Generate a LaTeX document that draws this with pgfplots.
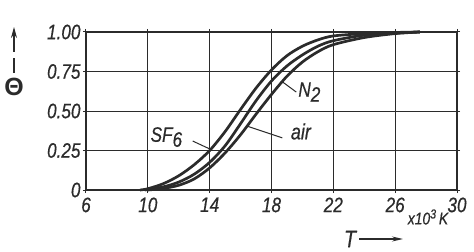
\documentclass[border=0pt]{standalone}
\usepackage{fontspec}
\setmainfont{Liberation Sans}
\newfontfamily\tickfont{Liberation Sans}[FakeStretch=0.82, FakeBold=0.5]
\usepackage{pgfplots}
\pgfplotsset{compat=1.18}
\usetikzlibrary{arrows.meta}
\definecolor{ink}{HTML}{2B2B2B}
\begin{document}
\begin{tikzpicture}
\path[use as bounding box] (-86bp,-62bp) rectangle (388bp,190bp);
\begin{axis}[at={(0bp,0bp)},anchor=south west, scale only axis,
  width=371bp, height=158bp,
  xmin=6,xmax=30,ymin=0,ymax=1,
  xtick={6,10,14,18,22,26,30}, ytick={0,0.25,0.5,0.75,1},
  yticklabels={0,0.25,0.50,0.75,1.00},
  grid=major, grid style={ink, line width=1bp},
  axis line style={ink, line width=1.8bp},
  tick align=outside, major tick length=3bp, tick style={ink,line width=1bp},
  tick label style={font=\tickfont\fontsize{21}{21}\selectfont\itshape, text=ink},
  yticklabel style={xshift=1bp},
  xticklabel style={yshift=-1bp},
  /pgf/number format/assume math mode=true,
  clip=false,
]
% SF6
\addplot[ink, line width=2.7bp, smooth, tension=0.5] coordinates {
(9.5,0) (10,0.008) (11,0.04) (12,0.09) (13,0.16) (14,0.25) (15,0.37) (16,0.51)
(17,0.645) (18,0.76) (19,0.85) (20,0.91) (21,0.95) (22,0.975) (24,0.99) (26,0.997) (27.6,1.0)};
% air
\addplot[ink, line width=2.7bp, smooth, tension=0.5] coordinates {
(9.8,0) (11,0.02) (12,0.05) (13,0.10) (14,0.175) (15,0.28) (16,0.42) (17,0.565)
(18,0.69) (19,0.785) (20,0.855) (21,0.91) (22,0.945) (24,0.98) (26,0.993) (27.6,1.0)};
% N2
\addplot[ink, line width=2.7bp, smooth, tension=0.5] coordinates {
(10,0) (11,0.01) (12,0.03) (13,0.07) (14,0.14) (15,0.235) (16,0.35) (17,0.48)
(18,0.605) (19,0.72) (20,0.81) (21,0.875) (22,0.92) (24,0.965) (26,0.99) (27.6,1.0)};
\node[font=\tickfont\fontsize{21}{21}\selectfont\itshape, text=ink] at (axis cs:11.2,0.335) {SF\raisebox{-5bp}{6}};
\draw[ink, line width=1bp] (axis cs:12.9,0.31) -- (axis cs:14.0,0.26);
\node[font=\tickfont\fontsize{22}{22}\selectfont\itshape, text=ink] at (axis cs:19.9,0.37) {air};
\draw[ink, line width=1bp] (axis cs:18.7,0.33) -- (axis cs:16.4,0.405);
\node[font=\tickfont\fontsize{21}{21}\selectfont\itshape, text=ink] at (axis cs:20.45,0.62) {N\raisebox{-5bp}{2}};
\draw[ink, line width=1bp] (axis cs:19.6,0.62) -- (axis cs:18.7,0.685);
\end{axis}
% y-axis symbol
\draw[ink, line width=1.4bp] (-72bp,117bp) -- (-72bp,132bp);
\draw[ink, line width=1.4bp, -{Stealth[length=11bp,width=6bp]}] (-72bp,138bp) -- (-72bp,163bp);
\node[ink, font=\fontsize{25}{25}\selectfont\bfseries] at (-72bp,103bp) {Θ};
% x-axis symbol
\node[ink, inner sep=0pt, font=\tickfont\fontsize{24}{24}\selectfont\itshape] at (264bp,-49bp) {T};
\draw[ink, line width=1.4bp, -{Stealth[length=11bp,width=5bp]}] (273bp,-49bp) -- (317bp,-49bp);
\node[ink, inner sep=0pt, font=\tickfont\fontsize{17}{17}\selectfont\itshape] at (342bp,-27bp) {x10\raisebox{6bp}{\fontsize{13}{13}\selectfont 3}\,K};
\end{tikzpicture}
\end{document}
